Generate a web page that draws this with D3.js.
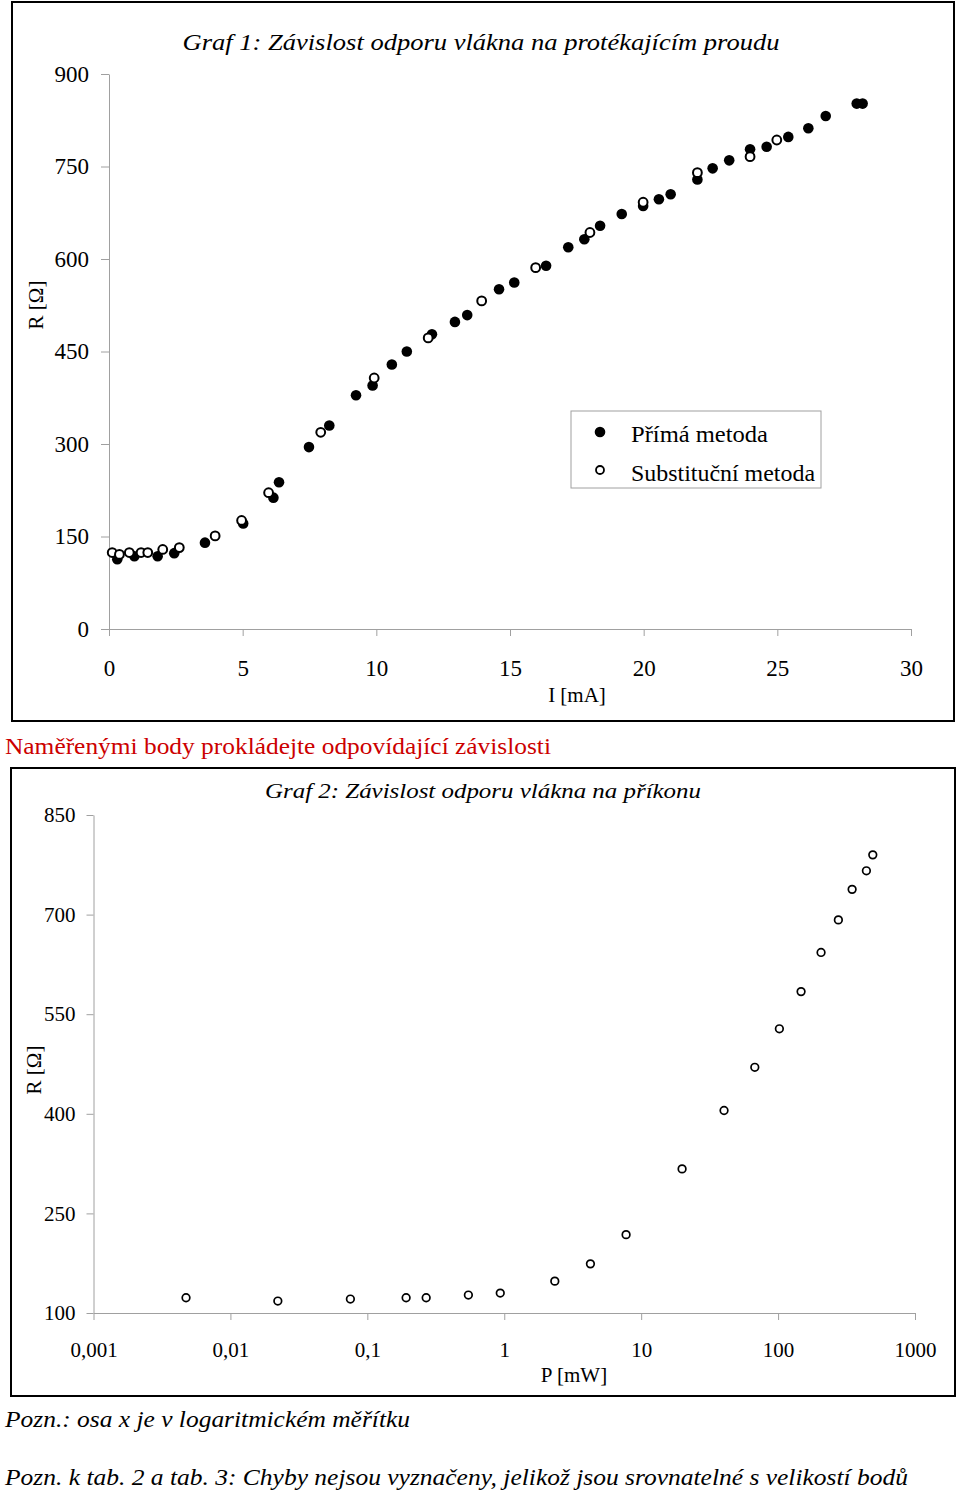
<!DOCTYPE html>
<html>
<head>
<meta charset="utf-8">
<script src="https://cdn.jsdelivr.net/npm/d3@7"></script>
<style>
  body { margin: 0; background: #fff; }
  text { font-family: "Liberation Serif", "Times New Roman", serif; }
</style>
</head>
<body>
<div id="chart"></div>
<script>
// Graf 1 - prima metoda (I [mA], R [ohm])
var directI = [0.31, 0.95, 1.82, 2.44, 3.59, 5.02, 6.15, 6.36, 7.48, 8.24, 9.24, 9.86, 10.58, 11.14,
  12.08, 12.94, 13.40, 14.59, 15.16, 16.35, 17.18, 17.78, 18.37, 19.18, 19.98, 20.57, 21.01, 22.01,
  22.58, 23.20, 23.98, 24.60, 25.41, 26.16, 26.81, 27.97, 28.19];
var directR = [113, 118, 118, 123, 140, 171, 213, 238, 295, 330, 379, 395, 429, 450,
  478, 498, 509, 551, 562, 589, 619, 632, 654, 673, 686, 697, 705, 729,
  747, 760, 778, 782, 798, 812, 832, 852, 852];
// Graf 1 - substitucni metoda
var substI = [0.12, 0.39, 0.76, 1.20, 1.45, 2.01, 2.63, 3.97, 4.96, 5.97, 7.92, 9.92, 11.94,
  13.94, 15.96, 17.99, 19.98, 22.01, 23.98, 24.98];
var substR = [124, 121, 124, 124, 124, 129, 132, 151, 176, 221, 319, 407, 472,
  532, 586, 643, 692, 740, 766, 793];
// Graf 2 - prikon P [mW], R [ohm]
var powerP = [0.00474, 0.0222, 0.0752, 0.192, 0.269, 0.547, 0.935, 2.34, 4.26, 7.76, 19.9,
  40.3, 67.6, 102.2, 147.2, 206, 275.6, 347.3, 441.6, 491.7];
var powerR = [123, 118, 121, 123, 123, 127, 130, 148, 174, 218, 317,
  405, 470, 528, 584, 643, 692, 738, 766, 790];

var ticks1X = [0, 5, 10, 15, 20, 25, 30];
var ticks1Y = [0, 150, 300, 450, 600, 750, 900];
var ticks2X = [0.001, 0.01, 0.1, 1, 10, 100, 1000];
var ticks2Y = [100, 250, 400, 550, 700, 850];
var legendLabels = ["Přímá metoda", "Substituční metoda"];

var W = 960, H = 1492;
var svg = d3.select("#chart").append("svg").attr("width", W).attr("height", H);

function styleAxis(g) {
  g.selectAll("path.domain").attr("stroke", "#a0a0a0").attr("stroke-width", 1);
  g.selectAll(".tick line").attr("stroke", "#a0a0a0");
  g.selectAll(".tick text").attr("fill", "#000")
    .style("font-family", '"Liberation Serif", serif');
}

// ---------- Graf 1 ----------
svg.append("rect").attr("x", 12).attr("y", 2).attr("width", 942).attr("height", 719)
  .attr("fill", "none").attr("stroke", "#000").attr("stroke-width", 2);

var x1 = d3.scaleLinear().domain([0, 30]).range([109, 911]);
var y1 = d3.scaleLinear().domain([0, 900]).range([629, 74]);

svg.append("g").attr("transform", "translate(0,629)")
  .call(d3.axisBottom(x1).tickValues(ticks1X).tickSizeInner(7).tickSizeOuter(0).tickPadding(24))
  .call(styleAxis)
  .selectAll(".tick text").style("font-size", "23px");

svg.append("g").attr("transform", "translate(109,0)")
  .call(d3.axisLeft(y1).tickValues(ticks1Y).tickSizeInner(8).tickSizeOuter(0).tickPadding(12))
  .call(styleAxis)
  .selectAll(".tick text").style("font-size", "23px");

svg.append("text").attr("x", 481).attr("y", 50).attr("text-anchor", "middle")
  .style("font-size", "24px").style("font-style", "italic")
  .attr("textLength", 597).attr("lengthAdjust", "spacingAndGlyphs")
  .text("Graf 1: Závislost odporu vlákna na protékajícím proudu");

svg.append("text").attr("x", 577).attr("y", 702).attr("text-anchor", "middle")
  .style("font-size", "21px").text("I [mA]");

svg.append("text").attr("transform", "translate(43,305) rotate(-90)").attr("text-anchor", "middle")
  .style("font-size", "21px").text("R [Ω]");

var direct = directI.map(function(d, i) { return {x: d, y: directR[i]}; });
var subst = substI.map(function(d, i) { return {x: d, y: substR[i]}; });

svg.append("g").selectAll("circle").data(direct).enter().append("circle")
  .attr("cx", function(d) { return x1(d.x); })
  .attr("cy", function(d) { return y1(d.y); })
  .attr("r", 5.3).attr("fill", "#000");

svg.append("g").selectAll("circle").data(subst).enter().append("circle")
  .attr("cx", function(d) { return x1(d.x); })
  .attr("cy", function(d) { return y1(d.y); })
  .attr("r", 4.4).attr("fill", "#fff").attr("stroke", "#000").attr("stroke-width", 2);

// legenda
var lg = svg.append("g");
lg.append("rect").attr("x", 571).attr("y", 411).attr("width", 250).attr("height", 77)
  .attr("fill", "#fff").attr("stroke", "#a0a0a0");
lg.append("circle").attr("cx", 600).attr("cy", 432).attr("r", 5.3).attr("fill", "#000");
lg.append("circle").attr("cx", 600).attr("cy", 470).attr("r", 4)
  .attr("fill", "#fff").attr("stroke", "#000").attr("stroke-width", 1.8);
lg.append("text").attr("x", 631).attr("y", 442).style("font-size", "23px")
  .attr("textLength", 137).attr("lengthAdjust", "spacingAndGlyphs").text(legendLabels[0]);
lg.append("text").attr("x", 631).attr("y", 481).style("font-size", "23px")
  .attr("textLength", 184).attr("lengthAdjust", "spacingAndGlyphs").text(legendLabels[1]);

svg.append("text").attr("x", 5).attr("y", 754).attr("fill", "#cc0000")
  .style("font-size", "23px").attr("textLength", 546).attr("lengthAdjust", "spacingAndGlyphs")
  .text("Naměřenými body prokládejte odpovídající závislosti");

// ---------- Graf 2 ----------
svg.append("rect").attr("x", 11).attr("y", 768).attr("width", 944).attr("height", 628)
  .attr("fill", "none").attr("stroke", "#000").attr("stroke-width", 2);

var x2 = d3.scaleLog().domain([0.001, 1000]).range([93.5, 915]);
var y2 = d3.scaleLinear().domain([100, 850]).range([1313, 815]);

svg.append("g").attr("transform", "translate(0,1313)")
  .call(d3.axisBottom(x2).tickValues(ticks2X).tickSizeInner(7).tickSizeOuter(0).tickPadding(22)
    .tickFormat(function(d) { return String(d).replace(".", ","); }))
  .call(styleAxis)
  .selectAll(".tick text").style("font-size", "21px");

svg.append("g").attr("transform", "translate(93.5,0)")
  .call(d3.axisLeft(y2).tickValues(ticks2Y).tickSizeInner(7).tickSizeOuter(0).tickPadding(11))
  .call(styleAxis)
  .selectAll(".tick text").style("font-size", "21px");

svg.append("text").attr("x", 483).attr("y", 798).attr("text-anchor", "middle")
  .style("font-size", "22px").style("font-style", "italic")
  .attr("textLength", 436).attr("lengthAdjust", "spacingAndGlyphs")
  .text("Graf 2: Závislost odporu vlákna na příkonu");

svg.append("text").attr("x", 574).attr("y", 1382).attr("text-anchor", "middle")
  .style("font-size", "21px").text("P [mW]");

svg.append("text").attr("transform", "translate(41,1070) rotate(-90)").attr("text-anchor", "middle")
  .style("font-size", "21px").text("R [Ω]");

var power = powerP.map(function(d, i) { return {x: d, y: powerR[i]}; });
svg.append("g").selectAll("circle").data(power).enter().append("circle")
  .attr("cx", function(d) { return x2(d.x); })
  .attr("cy", function(d) { return y2(d.y); })
  .attr("r", 3.8).attr("fill", "#fff").attr("stroke", "#000").attr("stroke-width", 1.7);

svg.append("text").attr("x", 5).attr("y", 1427)
  .style("font-size", "23px").style("font-style", "italic")
  .attr("textLength", 405).attr("lengthAdjust", "spacingAndGlyphs")
  .text("Pozn.: osa x je v logaritmickém měřítku");

svg.append("text").attr("x", 5).attr("y", 1485)
  .style("font-size", "23px").style("font-style", "italic")
  .attr("textLength", 903).attr("lengthAdjust", "spacingAndGlyphs")
  .text("Pozn. k tab. 2 a tab. 3: Chyby nejsou vyznačeny, jelikož jsou srovnatelné s velikostí bodů");
</script>
</body>
</html>
